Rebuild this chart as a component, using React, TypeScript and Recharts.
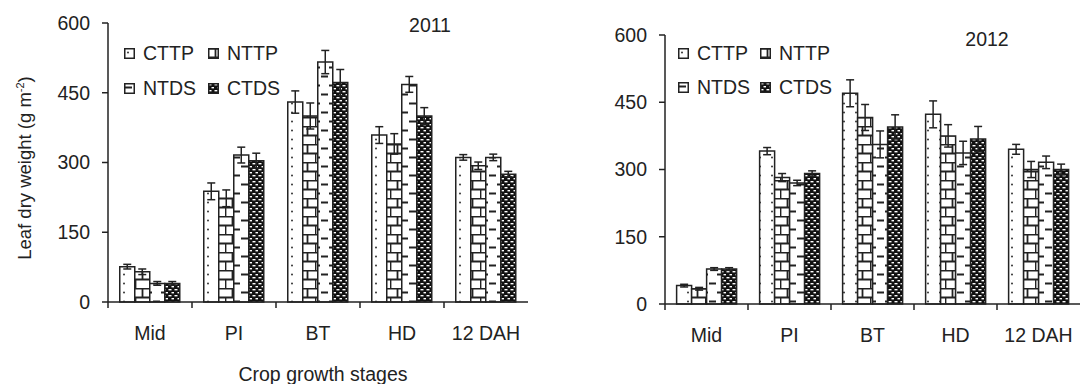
import React from 'react';
import { BarChart, Bar, XAxis, YAxis, ErrorBar } from 'recharts';

const stages = ['Mid', 'PI', 'BT', 'HD', '12 DAH'];
const yTicks = [0, 150, 300, 450, 600];
const treatments = ['CTTP', 'NTTP', 'NTDS', 'CTDS'];

// 2011 leaf dry weight (g m-2) and error
const cttp2011 = [76, 238, 430, 359, 311];
const cttp2011Err = [5, 18, 24, 18, 6];
const nttp2011 = [65, 223, 400, 340, 293];
const nttp2011Err = [6, 18, 28, 22, 8];
const ntds2011 = [40, 316, 516, 468, 311];
const ntds2011Err = [4, 17, 25, 17, 7];
const ctds2011 = [40, 304, 472, 400, 275];
const ctds2011Err = [4, 16, 28, 18, 6];

// 2012
const cttp2012 = [41, 341, 470, 423, 345];
const cttp2012Err = [3, 8, 30, 30, 11];
const nttp2012 = [34, 282, 416, 375, 300];
const nttp2012Err = [3, 9, 29, 25, 18];
const ntds2012 = [78, 270, 356, 337, 316];
const ntds2012Err = [3, 6, 30, 26, 14];
const ctds2012 = [78, 291, 395, 368, 300];
const ctds2012Err = [3, 6, 27, 28, 12];

const buildRows = (series: number[][], errs: number[][]) =>
  stages.map((stage, i) => {
    const row: any = { stage };
    treatments.forEach((t, k) => {
      row[t] = series[k][i];
      row[t + 'Err'] = errs[k][i];
    });
    return row;
  });

const rows2011 = buildRows(
  [cttp2011, nttp2011, ntds2011, ctds2011],
  [cttp2011Err, nttp2011Err, ntds2011Err, ctds2011Err]
);
const rows2012 = buildRows(
  [cttp2012, nttp2012, ntds2012, ctds2012],
  [cttp2012Err, nttp2012Err, ntds2012Err, ctds2012Err]
);

const INK = '#222';
const FONT = '"Liberation Sans", Arial, sans-serif';
const FS = 19.5;

const Patterns = ({ prefix }: { prefix: string }) => (
  <defs>
    <pattern id={`${prefix}-CTTP`} patternUnits="userSpaceOnUse" width={12} height={9}>
      <rect width={12} height={9} fill="#fff" />
      <circle cx={4} cy={4.5} r={1} fill="#333" />
    </pattern>
    <pattern id={`${prefix}-NTTP`} patternUnits="userSpaceOnUse" width={15} height={18}>
      <rect width={15} height={18} fill="#fff" />
      <path d="M0 0.5H15M0 9.5H15M7.5 0.5V9.5M0.5 9.5V18" stroke={INK} strokeWidth={1.8} />
    </pattern>
    <pattern id={`${prefix}-NTDS`} patternUnits="userSpaceOnUse" width={16} height={18}>
      <rect width={16} height={18} fill="#fff" />
      <path d="M1 4.5H8M9 13.5H16" stroke={INK} strokeWidth={1.8} />
    </pattern>
    <pattern id={`${prefix}-CTDS`} patternUnits="userSpaceOnUse" width={6} height={6}>
      <rect width={6} height={6} fill="#111" />
      <rect x={0.5} y={1} width={3} height={1.4} fill="#fff" />
      <rect x={3.5} y={4} width={3} height={1.4} fill="#fff" />
    </pattern>
  </defs>
);

const StageTick = (props: any) => {
  const { x, y, payload, band } = props;
  return (
    <g>
      <line x1={x - band / 2} x2={x - band / 2} y1={y} y2={y + 6} stroke={INK} strokeWidth={1.5} />
      <text
        x={x}
        y={y + 31}
        textAnchor="middle"
        dominantBaseline="central"
        fontSize={FS}
        fontFamily={FONT}
        fill={INK}
      >
        {payload.value}
      </text>
    </g>
  );
};

type PanelProps = {
  rows: any[];
  year: string;
  left: number;
  width: number;
  top: number;
  axisH: number;
  marginLeft: number;
  marginRight: number;
  yearX: number;
  yearY: number;
  legendX: number;
  legendY: number;
  colW: number;
  rowH: number;
  prefix: string;
  xTitle?: string;
};

const Y_AXIS_W = 60;

const Panel = (p: PanelProps) => {
  const band = (p.width - p.marginLeft - Y_AXIS_W - p.marginRight) / stages.length;
  return (
    <div style={{ position: 'absolute', left: p.left, top: 0, width: p.width, height: 384, fontFamily: FONT }}>
      <BarChart
        width={p.width}
        height={384}
        data={p.rows}
        margin={{ top: p.top, right: p.marginRight, left: p.marginLeft, bottom: 0 }}
        barGap={0}
        barCategoryGap="14%"
      >
        <Patterns prefix={p.prefix} />
        <XAxis
          dataKey="stage"
          height={p.axisH}
          interval={0}
          tickLine={false}
          tickSize={0}
          tickMargin={0}
          axisLine={{ stroke: INK, strokeWidth: 1.5 }}
          tick={(tp: any) => <StageTick {...tp} band={band} />}
          label={
            p.xTitle
              ? {
                  value: p.xTitle,
                  position: 'insideBottom',
                  offset: 3,
                  fill: INK,
                  fontSize: FS,
                  fontFamily: FONT,
                  dx: 5,
                }
              : undefined
          }
        />
        <YAxis
          domain={[0, 600]}
          ticks={yTicks}
          width={Y_AXIS_W}
          tickSize={6}
          tickMargin={12}
          axisLine={{ stroke: INK, strokeWidth: 1.5 }}
          tickLine={{ stroke: INK, strokeWidth: 1.5 }}
          tick={{ fill: INK, fontSize: FS, fontFamily: FONT }}
        />
        {treatments.map((t) => (
          <Bar
            key={t}
            dataKey={t}
            fill={`url(#${p.prefix}-${t})`}
            stroke={INK}
            strokeWidth={1.5}
            isAnimationActive={false}
          >
            <ErrorBar dataKey={t + 'Err'} width={4} stroke={INK} strokeWidth={1.5} direction="y" />
          </Bar>
        ))}
      </BarChart>
      {treatments.map((t, i) => (
        <div
          key={t}
          style={{
            position: 'absolute',
            left: p.legendX + (i % 2) * p.colW,
            top: p.legendY + Math.floor(i / 2) * p.rowH - 12,
            height: 24,
            display: 'flex',
            alignItems: 'center',
            fontSize: FS,
            fontFamily: FONT,
            color: INK,
            whiteSpace: 'nowrap',
          }}
        >
          <svg width={11} height={11} style={{ marginRight: 8 }}>
            <rect
              x={0.75}
              y={0.75}
              width={9.5}
              height={9.5}
              fill={`url(#${p.prefix}-${t})`}
              stroke={INK}
              strokeWidth={1.5}
            />
          </svg>
          {t}
        </div>
      ))}
      <div
        style={{
          position: 'absolute',
          left: p.yearX,
          top: p.yearY,
          transform: 'translate(-50%, -50%)',
          fontSize: FS,
          fontFamily: FONT,
          color: INK,
          whiteSpace: 'nowrap',
        }}
      >
        {p.year}
      </div>
    </div>
  );
};

const App = () => (
  <div
    style={{
      position: 'absolute',
      left: 0,
      top: 0,
      width: 1080,
      height: 384,
      background: '#fff',
      fontFamily: FONT,
    }}
  >
    <div
      style={{
        position: 'absolute',
        left: 25,
        top: 168,
        transform: 'translate(-50%, -50%) rotate(-90deg)',
        whiteSpace: 'nowrap',
        fontSize: 18.5,
        fontFamily: FONT,
        color: INK,
      }}
    >
      Leaf dry weight (g m<sup style={{ fontSize: 11 }}>-2</sup>)
    </div>
    <Panel
      rows={rows2011}
      year="2011"
      left={0}
      width={540}
      top={23}
      axisH={82}
      marginLeft={48}
      marginRight={12}
      yearX={430}
      yearY={25}
      legendX={124}
      legendY={53}
      colW={84}
      rowH={35}
      prefix="y11"
      xTitle="Crop growth stages"
    />
    <Panel
      rows={rows2012}
      year="2012"
      left={540}
      width={540}
      top={35}
      axisH={80}
      marginLeft={65}
      marginRight={0}
      yearX={447}
      yearY={39}
      legendX={138}
      legendY={53}
      colW={82}
      rowH={34}
      prefix="y12"
    />
  </div>
);

export default App;
